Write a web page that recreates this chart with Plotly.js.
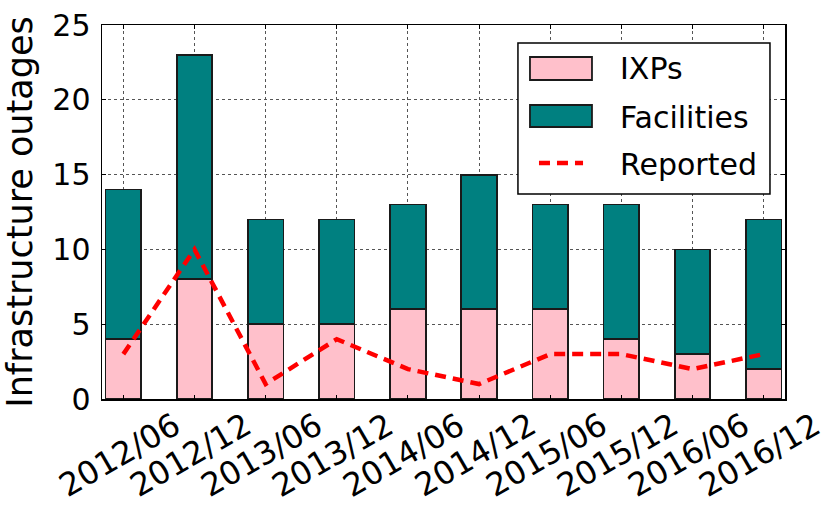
<!DOCTYPE html>
<html>
<head>
<meta charset="utf-8">
<script src="https://cdn.plot.ly/plotly-3.0.1.min.js"></script>
<style>html,body{margin:0;padding:0;background:#fff;}#chart{width:827px;height:506px;}</style>
</head>
<body>
<div id="chart"></div>
<script>
const months = ['2012/06','2012/12','2013/06','2013/12','2014/06','2014/12','2015/06','2015/12','2016/06','2016/12'];
const ixps = [4, 8, 5, 5, 6, 6, 6, 4, 3, 2];
const facilities = [10, 15, 7, 7, 7, 9, 7, 9, 7, 10];
const reported = [3, 10, 1, 4, 2, 1, 3, 3, 2, 3];
const yTicks = [0, 5, 10, 15, 20, 25];
const legendLabels = ['IXPs', 'Facilities', 'Reported'];

const PINK = '#FFC0CB', TEAL = '#008080', EDGE = '#1a1a1a';
const FONT = 'DejaVu Sans, sans-serif';

const traces = [
  {type:'bar', x: months, y: ixps, name: legendLabels[0], width: 0.5,
   marker:{color: PINK, line:{color: EDGE, width: 1.8}}, showlegend:false},
  {type:'bar', x: months, y: facilities, name: legendLabels[1], width: 0.5,
   marker:{color: TEAL, line:{color: EDGE, width: 1.8}}, showlegend:false},
  {type:'scatter', mode:'lines', x: months, y: reported, name: legendLabels[2],
   line:{color:'#ff0000', width:4.5, dash:'11px,7px'}, showlegend:false}
];

// legend geometry in paper coords
const L = {x0:0.609, x1:0.978, y0:0.548, y1:0.952};
const sw = {x0:0.6266, x1:0.7174};
const rows = [
  {y0:0.8529, y1:0.9144, ty:0.885},
  {y0:0.7273, y1:0.7861, ty:0.754},
  {y:0.631, ty:0.6257}
];
const shapes = [
  {type:'rect', xref:'paper', yref:'paper', x0:L.x0, x1:L.x1, y0:L.y0, y1:L.y1,
   fillcolor:'#ffffff', line:{color:'#000', width:1.5}, layer:'above'},
  {type:'rect', xref:'paper', yref:'paper', x0:sw.x0, x1:sw.x1, y0:rows[0].y0, y1:rows[0].y1,
   fillcolor:PINK, line:{color:EDGE, width:1.8}, layer:'above'},
  {type:'rect', xref:'paper', yref:'paper', x0:sw.x0, x1:sw.x1, y0:rows[1].y0, y1:rows[1].y1,
   fillcolor:TEAL, line:{color:EDGE, width:1.8}, layer:'above'},
  {type:'line', xref:'paper', yref:'paper', x0:0.6398, x1:0.7043, y0:rows[2].y, y1:rows[2].y,
   line:{color:'#ff0000', width:4.5, dash:'11px,7px'}, layer:'above'}
];
const annotations = legendLabels.map((t,i)=>({
  xref:'paper', yref:'paper', x:0.7555, y:rows[i].ty, xanchor:'left', yanchor:'middle',
  text:t, showarrow:false, font:{family:FONT, size:30, color:'#000'}
}));
// rotated category tick labels, centred under each category
months.forEach(m => annotations.push({
  xref:'x', yref:'paper', x:m, y:-0.1497, xanchor:'center', yanchor:'middle',
  xshift:-4, yshift:0,
  text:m, textangle:-30, showarrow:false, font:{family:FONT, size:32, color:'#000'}
}));

const layout = {
  width:827, height:506,
  margin:{l:102, r:42, t:25, b:107, pad:0},
  paper_bgcolor:'#fff', plot_bgcolor:'#fff',
  barmode:'stack', bargap:0.5,
  font:{family:FONT, size:30, color:'#000'},
  xaxis:{
    type:'category', range:[-0.3, 9.3], tickvals: months, showticklabels:false,
    showgrid:true, gridcolor:'#555', griddash:'dot', gridwidth:1,
    showline:true, linecolor:'#000', linewidth:1.5, mirror:'ticks',
    ticks:'inside', ticklen:4, tickcolor:'#000',
    zeroline:false
  },
  yaxis:{
    range:[0,25], tickvals: yTicks, ticktext: yTicks.map(String),
    title:{text:'Infrastructure outages', font:{family:FONT, size:35, color:'#000'}, standoff:10},
    showgrid:true, gridcolor:'#555', griddash:'dot', gridwidth:1,
    showline:true, linecolor:'#000', linewidth:1.5, mirror:'ticks',
    ticks:'inside', ticklen:4, tickcolor:'#000', tickfont:{family:FONT, size:30, color:'#000'},
    ticklabelstandoff:4,
    zeroline:false
  },
  shapes: shapes,
  annotations: annotations
};

Plotly.newPlot('chart', traces, layout, {staticPlot:true, displayModeBar:false});
</script>
</body>
</html>
